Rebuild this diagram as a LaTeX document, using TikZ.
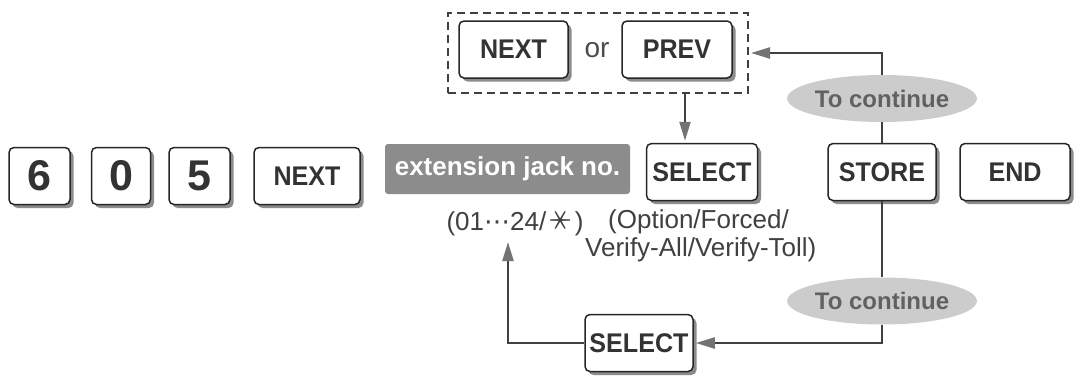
\documentclass[tikz,border=0pt]{standalone}
\usepackage{fontspec}
\setmainfont{Liberation Sans}
\newfontfamily\keyfont{Liberation Sans}[FakeStretch=0.93]
\newfontfamily\cjk{Noto Sans CJK JP}
\newfontfamily\sym{DejaVu Sans}
\usetikzlibrary{arrows.meta,shadows,shapes.geometric}

\begin{document}
\begin{tikzpicture}[x=1pt,y=-1pt,
  key/.style={draw=black!85, line width=1.5pt, rounded corners=5pt, fill=white,
    drop shadow={shadow xshift=3.5pt, shadow yshift=-3.5pt, fill=black!45, opacity=1},
    minimum height=57pt, inner sep=0pt, text=black!80,
    font=\keyfont\fontsize{27}{27}\selectfont\bfseries},
  digit/.style={key, font=\fontsize{43}{43}\selectfont\bfseries},
  cont/.style={ellipse, fill=black!20, text=black!62, minimum width=157pt,
    minimum height=47pt, inner sep=0pt, font=\fontsize{24}{24}\selectfont\bfseries},
  line/.style={draw=black!75, line width=2.2pt},
  arr/.style={line, shorten >=2pt, -{Triangle[length=19pt,width=11pt,color=black!55]}},
  note/.style={text=black!75, inner sep=0pt, font=\fontsize{26}{28}\selectfont}
]
\useasboundingbox (0,0) rectangle (1074,381);
\fill[white] (0,0) rectangle (1074,381);

% main row of keys
\path (39.5,176) node[digit, minimum width=61pt] (six) {6}
      (121,176)  node[digit, minimum width=59pt] (zero) {0}
      (199.5,176) node[digit, minimum width=61pt] (five) {5}
      (307,176)  node[key, minimum width=106pt] (next1) {NEXT}
      (702,172)  node[key, minimum width=111pt] (sel1) {SELECT}
      (882,172)  node[key, minimum width=108pt] (store) {STORE}
      (1015,172) node[key, minimum width=110pt] (end) {END}
      ;
\node[fill=black!45, rounded corners=3pt, text=white, inner sep=0pt,
      minimum width=245pt, minimum height=50pt,
      font=\fontsize{26}{26}\selectfont\bfseries] (jack) at (507.5,169) {extension jack no.};

% NEXT or PREV group
\node[draw=black!75, dash pattern=on 8pt off 5pt, line width=2pt,
      minimum width=300pt, minimum height=80pt] (group) at (598,53) {};
\path (513.5,49.5) node[key, minimum width=109pt] (next2) {NEXT}
      (677,49.5)   node[key, minimum width=110pt] (prev) {PREV}
      (597,50)     node[note, text=black!70, font=\fontsize{28}{28}\selectfont] (or) {or};

% lower loop
\node[key, minimum width=108pt] (sel2) at (639,343) {SELECT};
\node[cont] (cont1) at (882,98.5) {To continue};
\node[cont] (cont2) at (882,301) {To continue};

% notes
\node[note] (range) at (515,222) {(01{\sym ⋯}24/\,\rotatebox[origin=c]{90}{\cjk ＊}\,)};
\node[note, anchor=west] (opt) at (608,222) {(Option/Forced/};
\node[note, anchor=west] (verify) at (585,250) {Verify-All/Verify-Toll)};
\coordinate (tip) at (508,240);

\draw[line] (store.north) -- (cont1.south);
\draw[arr] (cont1.north) |- (group.east);
\draw[arr] ([xshift=-17pt]sel1.north |- group.south) -- ([xshift=-17pt]sel1.north);
\draw[line] (store.south) -- (cont2.north);
\draw[arr] (cont2.south) |- (sel2.east);
\draw[arr] (sel2.west) -| (tip);
\end{tikzpicture}
\end{document}
